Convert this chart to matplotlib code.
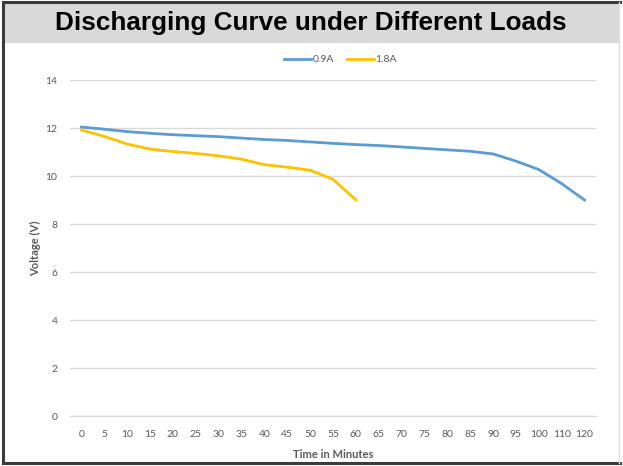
import matplotlib.pyplot as plt
from matplotlib.patches import Rectangle
from matplotlib.lines import Line2D

# categories on the x axis (Excel category axis, not evenly scaled)
minutes = ['0', '5', '10', '15', '20', '25', '30', '35', '40', '45', '50', '55',
           '60', '65', '70', '75', '80', '85', '90', '95', '100', '110', '120']

# voltage readings
volts_09a = [12.04, 11.95, 11.85, 11.78, 11.72, 11.68, 11.64, 11.58, 11.52, 11.48,
             11.42, 11.36, 11.31, 11.27, 11.21, 11.15, 11.09, 11.03, 10.92, 10.62,
             10.27, 9.68, 9.0]
volts_18a = [11.92, 11.65, 11.33, 11.12, 11.02, 10.94, 10.84, 10.70, 10.47, 10.37,
             10.24, 9.86, 9.0]

blue = '#5B9BD5'
yellow = '#FFC000'
grey_text = '#595959'

fig = plt.figure(figsize=(6.23, 4.66), dpi=100)
W, H = 623, 466

# grey title banner and frame
fig.add_artist(Rectangle((3 / W, 1 - 43 / H), 616 / W, 40 / H,
                         transform=fig.transFigure, facecolor='#D9D9D9',
                         edgecolor='none'))
fig.text(311 / W, 1 - 23 / H, 'Discharging Curve under Different Loads',
         ha='center', va='center', fontsize=18.8, fontweight='bold',
         family='Liberation Sans', color='black')
frame = dict(transform=fig.transFigure, color='#3a3a3a', linewidth=2.2)
fig.add_artist(Line2D([3 / W, 3 / W], [1 - 463 / H, 1 - 2 / H], **frame))
fig.add_artist(Line2D([3 / W, 620 / W], [1 - 2 / H, 1 - 2 / H], **frame))
fig.add_artist(Line2D([3 / W, 620 / W], [1 - 463 / H, 1 - 463 / H], **frame))
fig.add_artist(Line2D([619 / W, 619 / W], [1 - 463 / H, 1 - 2 / H],
                      transform=fig.transFigure, color='#e0e0e0', linewidth=1))

ax = fig.add_axes([70 / W, 1 - 416 / H, 526 / W, 336 / H])
x_all = range(len(minutes))
ax.plot(x_all, volts_09a, color=blue, linewidth=2, label='0.9A')
ax.plot(range(len(volts_18a)), volts_18a, color=yellow, linewidth=2, label='1.8A')

ax.set_xlim(-0.5, len(minutes) - 0.5)
ax.set_ylim(0, 14)
ax.set_xticks(list(x_all))
ax.set_xticklabels(minutes)
ax.set_yticks(range(0, 15, 2))
ax.grid(axis='y', color='#D9D9D9', linewidth=1)
ax.set_axisbelow(True)
for side in ['top', 'right', 'left']:
    ax.spines[side].set_visible(False)
ax.spines['bottom'].set_color('#D9D9D9')
ax.tick_params(axis='x', length=0, labelsize=7.5, colors=grey_text, pad=10)
ax.tick_params(axis='y', length=0, labelsize=7.5, colors=grey_text, pad=9)
for lbl in ax.get_xticklabels() + ax.get_yticklabels():
    lbl.set_family('Lato')

ax.set_xlabel('Time in Minutes', fontsize=8, fontweight='bold',
              color=grey_text, family='Lato', labelpad=7)
ax.set_ylabel('Voltage (V)', fontsize=8, fontweight='bold',
              color=grey_text, family='Lato', labelpad=3)

leg = ax.legend(loc='center', bbox_to_anchor=(0.514, 1.06), ncol=2, frameon=False,
                fontsize=7.5, handlelength=2.6, handletextpad=0.15, columnspacing=1.2)
for t in leg.get_texts():
    t.set_color(grey_text)
    t.set_family('Lato')

fig.savefig('out.png', dpi=100)
